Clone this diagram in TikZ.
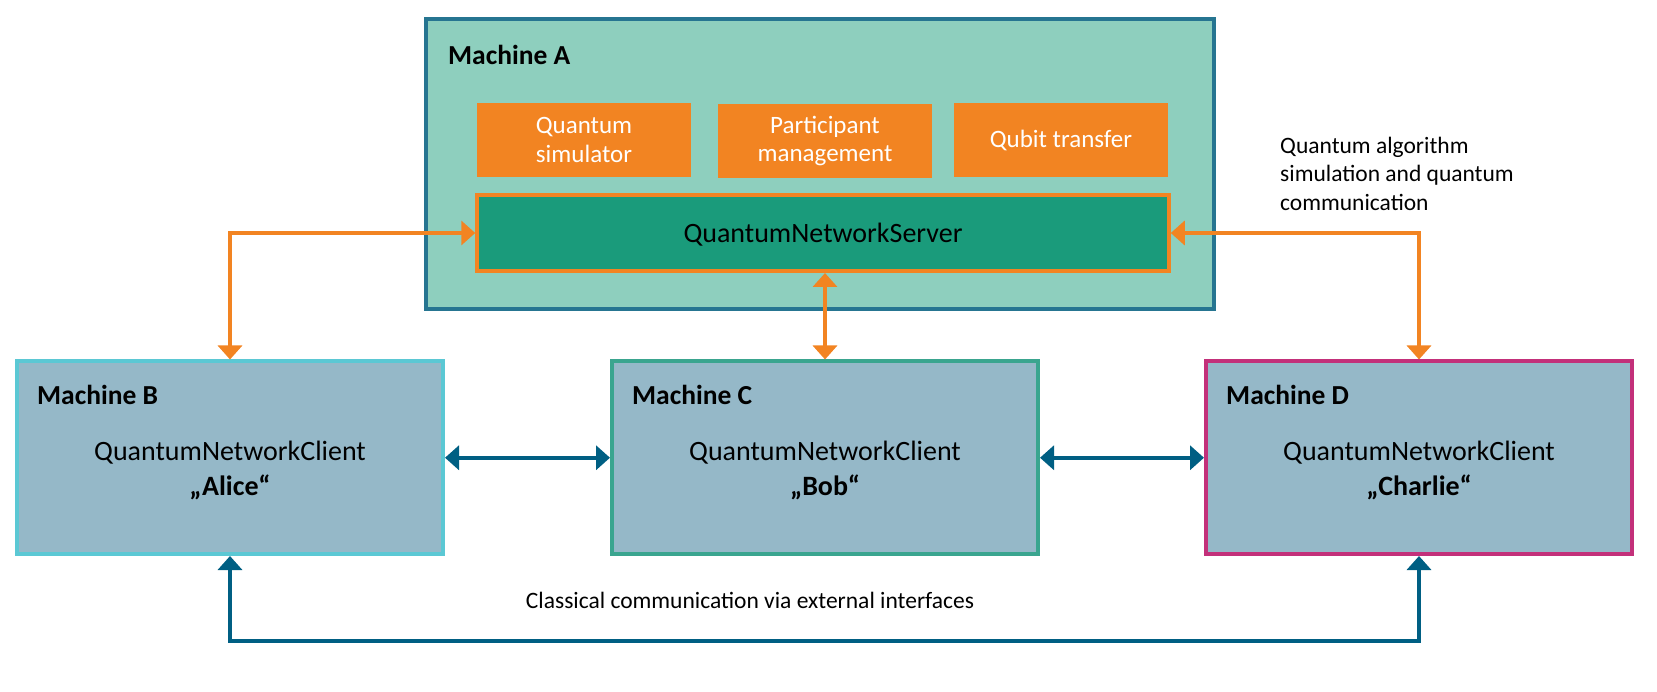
\documentclass[tikz,border=0pt]{standalone}
\usepackage{fontspec}
\setmainfont{Carlito}
\usepackage{tikz}
\usetikzlibrary{arrows.meta}
\usetikzlibrary{positioning}
\definecolor{machAfill}{RGB}{142,207,190}
\definecolor{machAline}{RGB}{38,117,145}
\definecolor{qorange}{RGB}{242,132,34}
\definecolor{srvgreen}{RGB}{26,155,123}
\definecolor{clientfill}{RGB}{149,184,200}
\definecolor{bline}{RGB}{91,200,212}
\definecolor{cline}{RGB}{58,165,143}
\definecolor{dline}{RGB}{195,48,122}
\definecolor{classblue}{RGB}{0,95,131}

\begin{document}
\begin{tikzpicture}[x=1pt, y=-1pt,
    client/.style={draw, line width=4pt, fill=clientfill, minimum width=426pt, minimum height=192.5pt, inner sep=0pt},
    service/.style={fill=qorange, text=white, minimum width=214pt, minimum height=74pt, inner sep=0pt, align=center, font=\fontsize{25}{28.7}\selectfont},
    mlabel/.style={anchor=base west, inner sep=0pt, font=\fontsize{27.5}{33}\selectfont\bfseries},
    ctext/.style={anchor=base, inner sep=0pt, align=center, font=\fontsize{28}{34.5}\selectfont},
    qlink/.style={draw=qorange, line width=4.5pt, {Triangle[width=24pt,length=14pt]}-{Triangle[width=24pt,length=14pt]}},
    clink/.style={draw=classblue, line width=4.5pt, {Triangle[width=24pt,length=14pt]}-{Triangle[width=24pt,length=14pt]}}]
      \useasboundingbox (0,0) rectangle (1657,692);

      \node[draw=machAline, line width=4pt, fill=machAfill, minimum width=788.5pt, minimum height=289.5pt] (A) at (820,164) {};
      \node[mlabel] (labA) at (448,64.3) {Machine A};
      \node[service] (sim)  at (584,140) {Quantum\\simulator};
      \node[service] (part) at (825,141) {Participant\\management};
      \node[service] (qbt)  at (1061,140) {Qubit transfer};
      \node[draw=qorange, line width=4pt, fill=srvgreen, minimum width=691.5pt, minimum height=76pt, inner sep=0pt] (srv) at (823,233) {};
      \node[ctext] (srvtext) at (823,243) {QuantumNetworkServer};

      \node[client, draw=bline] (B) at (230,457.75) {};
      \node[client, draw=cline] (C) at (825,457.75) {};
      \node[client, draw=dline] (D) at (1419,457.75) {};
      \node[mlabel] (labB) at (37,405)   {Machine B};
      \node[mlabel] (labC) at (632,405)  {Machine C};
      \node[mlabel] (labD) at (1226,405) {Machine D};
      \node[ctext] (alice)   at (230,495)  {QuantumNetworkClient\\\textbf{„Alice“}};
      \node[ctext] (bob)     at (825,495)  {QuantumNetworkClient\\\textbf{„Bob“}};
      \node[ctext] (charlie) at (1419,495) {QuantumNetworkClient\\\textbf{„Charlie“}};

      \node[anchor=base west, inner sep=0pt, align=left, font=\fontsize{23.5}{28.7}\selectfont] (qlabel) at (1280,210.7) {Quantum algorithm\\simulation and quantum\\communication};
      \node[anchor=base, inner sep=0pt, font=\fontsize{23.5}{28.7}\selectfont] (clabel) at (750,608) {Classical communication via external interfaces};

      \draw[qlink] (srv.west) -| (B.north);
      \draw[qlink] (srv.east) -| (D.north);
      \draw[qlink] (C.north) -- (C.north |- srv.south);
      \draw[clink] (B.east) -- (C.west);
      \draw[clink] (C.east) -- (D.west);
      \draw[clink] (B.south) -- ++(0,85) -| (D.south);
    \end{tikzpicture}
\end{document}
